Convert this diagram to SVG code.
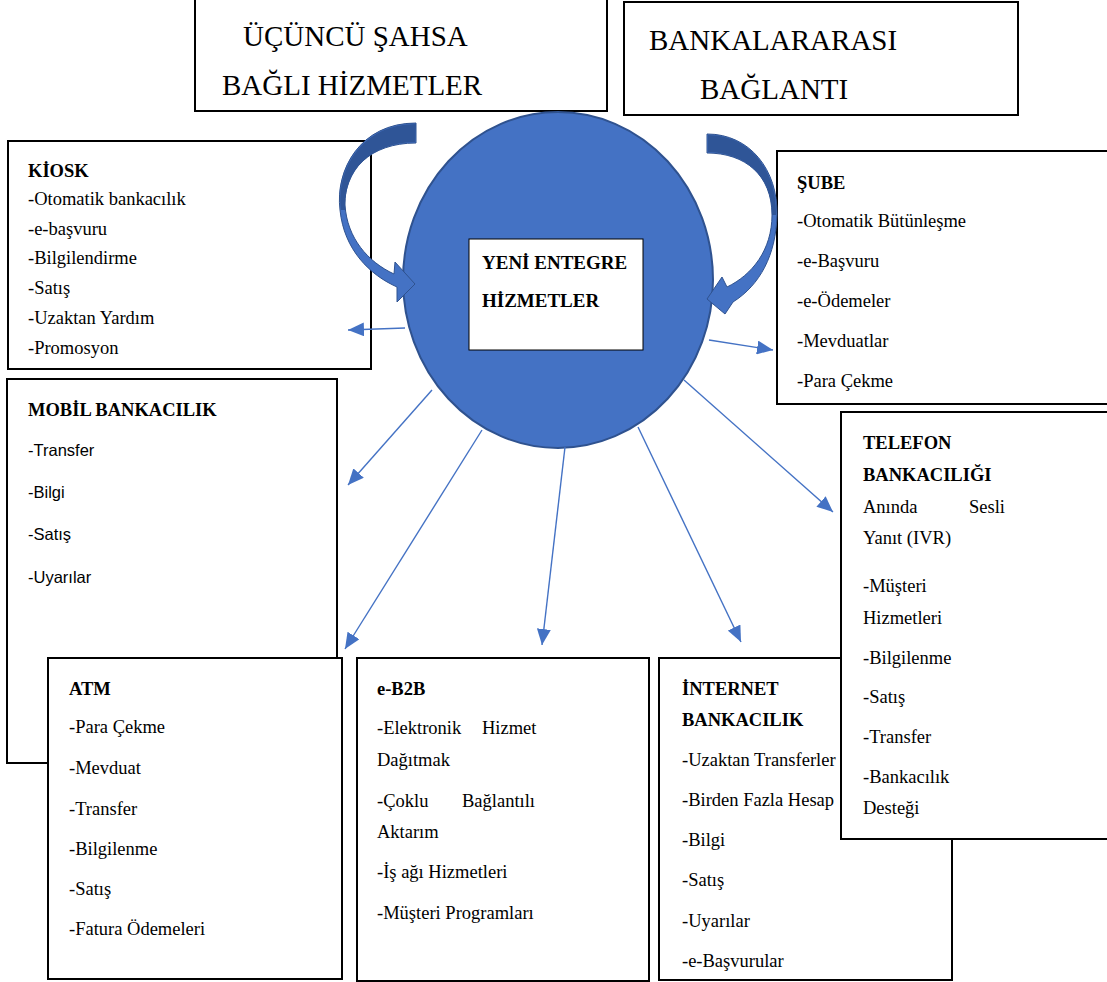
<svg xmlns="http://www.w3.org/2000/svg" width="1107" height="982" viewBox="0 0 1107 982">
<defs>
<style>
.box{fill:#fff;stroke:#000;stroke-width:2}
.t{font-family:"Liberation Serif","Times New Roman",serif;font-size:18.5px;fill:#000}
.b{font-weight:bold}
.s{font-family:"Liberation Sans",Arial,sans-serif;font-size:16.5px}
.big{font-size:29px}
.conn{stroke:#4472C4;stroke-width:1.4;fill:none;marker-end:url(#ah)}
.carrow{fill:#4472C4;stroke:#2F528F;stroke-width:1}
.cdark{fill:#2F5597;stroke:none}
</style>
<marker id="ah" markerUnits="userSpaceOnUse" markerWidth="16" markerHeight="14" refX="16" refY="7" orient="auto">
<path d="M0,0 L16,7 L0,14 Z" fill="#4472C4"/>
</marker>
</defs>
<rect width="1107" height="982" fill="#fff"/>

<g id="ucuncu">
<rect class="box" x="195" y="-2" width="412" height="113"/>
<text class="t big" x="243" y="46">ÜÇÜNCÜ ŞAHSA</text>
<text class="t big" x="222" y="95">BAĞLI HİZMETLER</text>
</g>
<g id="bankalararasi">
<rect class="box" x="624" y="2" width="394" height="113"/>
<text class="t big" x="649" y="50">BANKALARARASI</text>
<text class="t big" x="700" y="99">BAĞLANTI</text>
</g>

<g id="kiosk">
<rect class="box" x="8" y="141" width="363" height="228"/>
<text class="t b" x="28" y="177">KİOSK</text>
<text class="t" x="28" y="205">-Otomatik bankacılık</text>
<text class="t" x="28" y="235">-e-başvuru</text>
<text class="t" x="28" y="264">-Bilgilendirme</text>
<text class="t" x="28" y="294">-Satış</text>
<text class="t" x="28" y="324">-Uzaktan Yardım</text>
<text class="t" x="28" y="354">-Promosyon</text>
</g>

<g id="sube">
<rect class="box" x="777" y="151" width="340" height="253"/>
<text class="t b" x="797" y="189">ŞUBE</text>
<text class="t" x="797" y="227">-Otomatik Bütünleşme</text>
<text class="t" x="797" y="267">-e-Başvuru</text>
<text class="t" x="797" y="307">-e-Ödemeler</text>
<text class="t" x="797" y="347">-Mevduatlar</text>
<text class="t" x="797" y="387">-Para Çekme</text>
</g>

<g id="mobil">
<rect class="box" x="7" y="379" width="330" height="384"/>
<text class="t b" x="28" y="416">MOBİL BANKACILIK</text>
<text class="t s" x="28" y="456">-Transfer</text>
<text class="t s" x="28" y="498">-Bilgi</text>
<text class="t s" x="28" y="540">-Satış</text>
<text class="t s" x="28" y="583">-Uyarılar</text>
</g>

<g id="merkez">
<ellipse cx="558" cy="280" rx="155" ry="168" fill="#4472C4" stroke="#2F528F" stroke-width="2"/>
<rect x="469" y="239" width="174" height="111" fill="#fff" stroke="#000" stroke-width="1"/>
<text class="t b" x="482" y="269" style="font-size:19px">YENİ ENTEGRE</text>
<text class="t b" x="482" y="307" style="font-size:19px">HİZMETLER</text>
</g>

<g id="egri-oklar">
<path class="carrow" d="M416,123 C360,123 335,170 340,210 C344,250 370,275 397,287 L397,302 L415,284 L395,262 L394,274 C368,262 347,238 345,205 C344,170 370,143 416,143 Z"/>
<path class="cdark" d="M416,124 C361,124 336,170 341,210 L345,210 C344,170 370,143 415,142 Z"/>
<path class="carrow" d="M707,134 C750,134 778,170 777,215 C776,255 760,285 733,302 L725,314 L707,299 L722,277 L727,287 C752,275 772,250 772,215 C772,175 745,153 707,153 Z"/>
<path class="cdark" d="M708,135 C750,135 777,170 776,215 L772,215 C772,175 745,153 708,152 Z"/>
</g>

<g id="baglantilar">
<line class="conn" x1="405" y1="328" x2="348" y2="330"/>
<line class="conn" x1="709" y1="340" x2="773" y2="350"/>
<line class="conn" x1="432" y1="390" x2="348" y2="485"/>
<line class="conn" x1="482" y1="430" x2="345" y2="649"/>
<line class="conn" x1="565" y1="447" x2="542" y2="645"/>
<line class="conn" x1="638" y1="427" x2="741" y2="642"/>
<line class="conn" x1="684" y1="380" x2="833" y2="512"/>
</g>

<g id="atm">
<rect class="box" x="48" y="658" width="294" height="321"/>
<text class="t b" x="69" y="695">ATM</text>
<text class="t" x="69" y="733">-Para Çekme</text>
<text class="t" x="69" y="774">-Mevduat</text>
<text class="t" x="69" y="815">-Transfer</text>
<text class="t" x="69" y="855">-Bilgilenme</text>
<text class="t" x="69" y="895">-Satış</text>
<text class="t" x="69" y="935">-Fatura Ödemeleri</text>
</g>

<g id="eb2b">
<rect class="box" x="357" y="658" width="292" height="323"/>
<text class="t b" x="377" y="695">e-B2B</text>
<text class="t" x="377" y="734">-Elektronik</text>
<text class="t" x="482" y="734">Hizmet</text>
<text class="t" x="377" y="766">Dağıtmak</text>
<text class="t" x="377" y="807">-Çoklu</text>
<text class="t" x="462" y="807">Bağlantılı</text>
<text class="t" x="377" y="838">Aktarım</text>
<text class="t" x="377" y="878">-İş ağı Hizmetleri</text>
<text class="t" x="377" y="919">-Müşteri Programları</text>
</g>

<g id="internet">
<rect class="box" x="659" y="658" width="293" height="322"/>
<text class="t b" x="682" y="695">İNTERNET</text>
<text class="t b" x="682" y="726">BANKACILIK</text>
<text class="t" x="682" y="766">-Uzaktan Transferler</text>
<text class="t" x="682" y="806">-Birden Fazla Hesap</text>
<text class="t" x="682" y="846">-Bilgi</text>
<text class="t" x="682" y="886">-Satış</text>
<text class="t" x="682" y="927">-Uyarılar</text>
<text class="t" x="682" y="967">-e-Başvurular</text>
</g>

<g id="telefon">
<rect class="box" x="841" y="412" width="276" height="427"/>
<text class="t b" x="863" y="449">TELEFON</text>
<text class="t b" x="863" y="481">BANKACILIĞI</text>
<text class="t" x="863" y="513">Anında</text>
<text class="t" x="969" y="513">Sesli</text>
<text class="t" x="863" y="544">Yanıt (IVR)</text>
<text class="t" x="863" y="592">-Müşteri</text>
<text class="t" x="863" y="624">Hizmetleri</text>
<text class="t" x="863" y="664">-Bilgilenme</text>
<text class="t" x="863" y="703">-Satış</text>
<text class="t" x="863" y="743">-Transfer</text>
<text class="t" x="863" y="783">-Bankacılık</text>
<text class="t" x="863" y="814">Desteği</text>
</g>
</svg>
